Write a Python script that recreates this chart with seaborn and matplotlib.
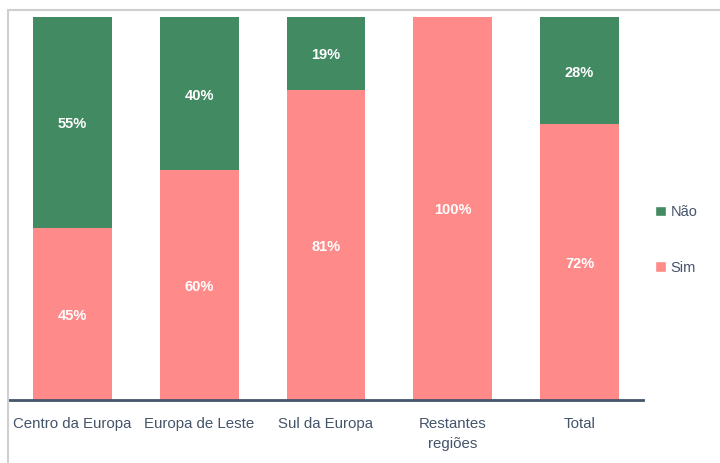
import matplotlib
matplotlib.use("Agg")
import matplotlib.pyplot as plt
from matplotlib.patches import Patch, Rectangle
import seaborn as sns
import pandas as pd

categories = ["Centro da Europa", "Europa de Leste", "Sul da Europa", "Restantes\nregiões", "Total"]
sim = [45, 60, 81, 100, 72]
nao = [55, 40, 19, 0, 28]

GREEN = "#428A62"
PINK = "#FF8A8A"
TEXT = "#44546A"

sns.set_theme(style="white")
plt.rcParams["font.family"] = ["Liberation Sans", "DejaVu Sans"]

df = pd.DataFrame({"regiao": categories, "Sim": sim, "Não": nao})
df["total"] = df["Sim"] + df["Não"]

fig = plt.figure(figsize=(7.2, 4.63), dpi=100)
ax = fig.add_axes([9 / 720, 1 - 400 / 463, (643 - 9) / 720, (400 - 17) / 463])

# outer frame of the figure
fig.patches.append(Rectangle((8 / 720, -0.1), 1.2, 1 - 10 / 463 + 0.1,
                             transform=fig.transFigure, fill=False,
                             edgecolor="#CFCFCF", linewidth=1.5, zorder=0))

sns.barplot(data=df, x="regiao", y="total", color=GREEN, width=0.62,
            saturation=1, ax=ax, edgecolor="none")
sns.barplot(data=df, x="regiao", y="Sim", color=PINK, width=0.62,
            saturation=1, ax=ax, edgecolor="none")

for i, (s, n) in enumerate(zip(sim, nao)):
    if s > 0:
        ax.text(i, s / 2 - 0.5, f"{s}%", ha="center", va="center", color="white",
                fontsize=10.5, fontweight="bold")
    if n > 0:
        ax.text(i, s + n / 2 - 0.5, f"{n}%", ha="center", va="center", color="white",
                fontsize=10.5, fontweight="bold")

ax.set_ylim(0, 100)
ax.set_xlim(-0.5, len(categories) - 0.5)
ax.set_xlabel("")
ax.set_ylabel("")
ax.set_yticks([])
ax.tick_params(axis="x", length=0, pad=12, labelsize=10.8, labelcolor=TEXT)
for lbl in ax.get_xticklabels():
    lbl.set_linespacing(1.55)
for side in ["top", "right", "left"]:
    ax.spines[side].set_visible(False)
ax.spines["bottom"].set_color(TEXT)
ax.spines["bottom"].set_linewidth(2)

handles = [Patch(facecolor=GREEN, label="Não"), Patch(facecolor=PINK, label="Sim")]
fig.legend(handles=handles, loc="center left", bbox_to_anchor=(642 / 720, 1 - 240 / 463),
           frameon=False, fontsize=10.5, labelcolor=TEXT, handlelength=0.75,
           handleheight=0.75, handletextpad=0.3, labelspacing=2.85)

fig.savefig("out.png", dpi=100)
